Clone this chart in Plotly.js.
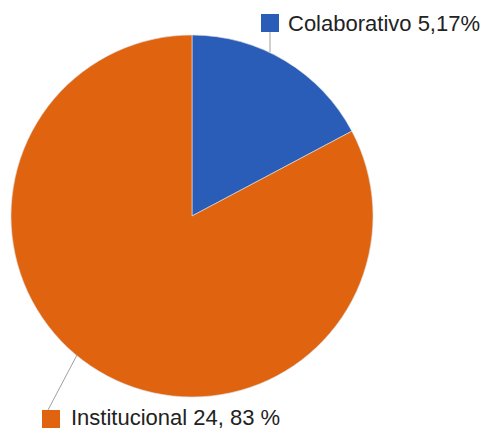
<!DOCTYPE html>
<html>
<head>
<meta charset="utf-8">
<script src="https://cdn.plot.ly/plotly-3.0.1.min.js"></script>
<style>html,body{margin:0;padding:0;background:#fff;}#chart{width:483px;height:430px;}</style>
</head>
<body>
<div id="chart"></div>
<script>
// Data
const labels = ['Colaborativo', 'Institucional'];
const values = [5.17, 24.83];
const valueLabels = ['5,17%', '24, 83 %'];
const colors = ['#2a5db8', '#e0640f'];

// Layout helpers (pixel -> paper)
const W = 483, H = 430;
const px = x => x / W;
const py = y => 1 - y / H;

// Label placement (pixels): marker square, leader line start/end, text anchor
const labelPos = [
  {sq: [261, 14, 279, 32], line: [270, 32, 270, 52], text: [286, 23]},
  {sq: [42, 410, 60, 428], line: [48, 410, 77, 355], text: [69, 417]}
];

const shapes = [];
const annotations = [];
labels.forEach((lab, i) => {
  const p = labelPos[i];
  shapes.push({type: 'line', xref: 'paper', yref: 'paper',
    x0: px(p.line[0]), y0: py(p.line[1]), x1: px(p.line[2]), y1: py(p.line[3]),
    line: {color: '#a0a0a0', width: 1}});
  shapes.push({type: 'rect', xref: 'paper', yref: 'paper',
    x0: px(p.sq[0]), y0: py(p.sq[1]), x1: px(p.sq[2]), y1: py(p.sq[3]),
    fillcolor: colors[i], line: {width: 0}});
  annotations.push({xref: 'paper', yref: 'paper', x: px(p.text[0]), y: py(p.text[1]),
    xanchor: 'left', yanchor: 'middle', showarrow: false,
    text: lab + ' ' + valueLabels[i],
    font: {family: 'Liberation Sans, Arial, sans-serif', size: 22, color: '#222222'}});
});

const trace = {
  type: 'pie',
  labels: labels,
  values: values,
  sort: false,
  direction: 'clockwise',
  rotation: 0,
  textinfo: 'none',
  hoverinfo: 'label+value',
  marker: {colors: colors, line: {color: 'rgba(220,220,220,0.8)', width: 0.8}},
  domain: {x: [px(11), px(373)], y: [py(397), py(35)]},
  showlegend: false
};

Plotly.newPlot('chart', [trace], {
  width: W, height: H,
  margin: {l: 0, r: 0, t: 0, b: 0},
  paper_bgcolor: '#ffffff',
  showlegend: false,
  shapes: shapes,
  annotations: annotations
}, {displayModeBar: false, staticPlot: true});
</script>
</body>
</html>
